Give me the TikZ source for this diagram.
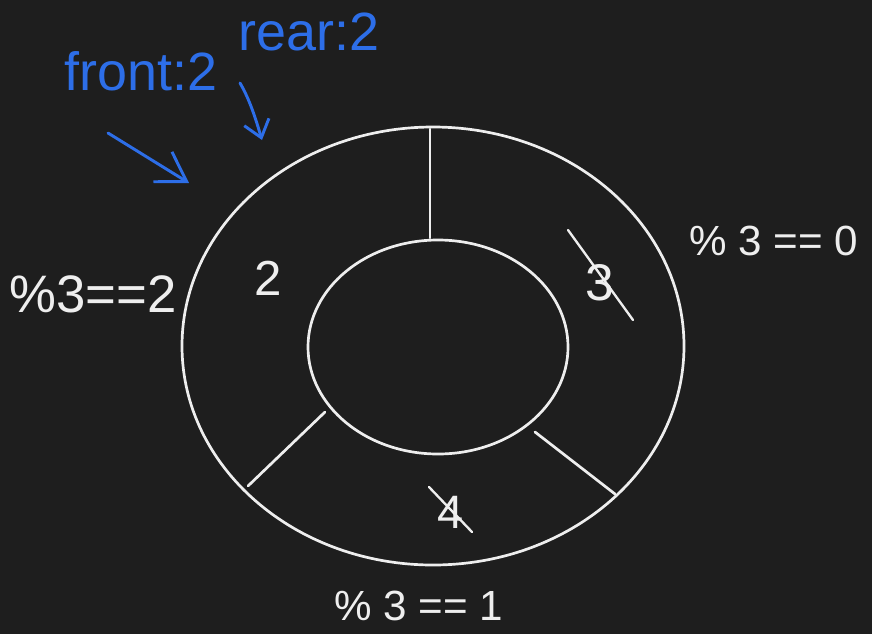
\documentclass[tikz,border=0pt]{standalone}
\usepackage{fontspec}
\setmainfont{Liberation Sans}
\usetikzlibrary{arrows.meta}
\definecolor{bg}{RGB}{30,30,30}
\definecolor{ink}{RGB}{238,238,238}
\definecolor{pen}{RGB}{45,110,232}
\tikzset{
  stroke/.style={draw=ink, line width=2.3pt, line cap=round},
  penstroke/.style={draw=pen, line width=2.5pt, line cap=round, line join=round},
  wlabel/.style={text=ink, anchor=base, inner sep=0pt, font=\fontsize{40}{44}\selectfont},
  blabel/.style={text=pen, anchor=base, inner sep=0pt, font=\fontsize{46}{50}\selectfont},
}
\begin{document}
\begin{tikzpicture}[x=0.03cm,y=-0.03cm]
\fill[bg] (0,0) rectangle (872,634);
\useasboundingbox (0,0) rectangle (872,634);
% rings
\coordinate (c1) at (433,346);
\coordinate (c2) at (438,347);
\draw[stroke] (c1) ellipse [x radius=251, y radius=219];
\draw[stroke] (c2) ellipse [x radius=130, y radius=107];
% dividers
\coordinate (t1) at (430,129); \coordinate (t2) at (430,238);
\coordinate (l1) at (248,486); \coordinate (l2) at (325,412);
\coordinate (r1) at (535,432); \coordinate (r2) at (615,494);
\draw[stroke] (t1) -- (t2);
\draw[stroke] (l1) -- (l2);
\draw[stroke] (r1) -- (r2);
% slot values
\node[wlabel, font=\fontsize{42}{46}\selectfont] (v2) at (268,295) {2};
\node[wlabel, font=\fontsize{44}{48}\selectfont] (v3) at (600,300) {3};
\coordinate (s3a) at (568,230); \coordinate (s3b) at (633,320);
\draw[stroke, line width=2pt] (s3a) -- (s3b);
\node[wlabel, font=\fontsize{40}{44}\selectfont] (v4) at (451,528) {4};
\coordinate (s4a) at (429,487); \coordinate (s4b) at (472,532);
\draw[stroke, line width=2pt] (s4a) -- (s4b);
% modulo labels
\node[wlabel, font=\fontsize{45}{48}\selectfont] (m2) at (93,312) {\%3==2};
\node[wlabel, font=\fontsize{36}{40}\selectfont] (m0) at (774,255) {\% 3 == 0};
\node[wlabel, font=\fontsize{36}{40}\selectfont] (m1) at (419,620) {\% 3 == 1};
% pointers
\node[blabel] (front) at (141,90) {front:2};
\node[blabel] (rear) at (309,50) {rear:2};
\coordinate (fa) at (108,133); \coordinate (fb) at (189,183);
\coordinate (ra) at (240,83); \coordinate (rb) at (262,140);
\draw[penstroke, -{Straight Barb[length=24pt,width=30pt,line width=2.5pt]}] (fa) -- (fb);
\draw[penstroke, -{Straight Barb[length=14pt,width=22pt,line width=2.5pt]}] (ra) .. controls (250,100) and (256,120) .. (rb);
\end{tikzpicture}
\end{document}
